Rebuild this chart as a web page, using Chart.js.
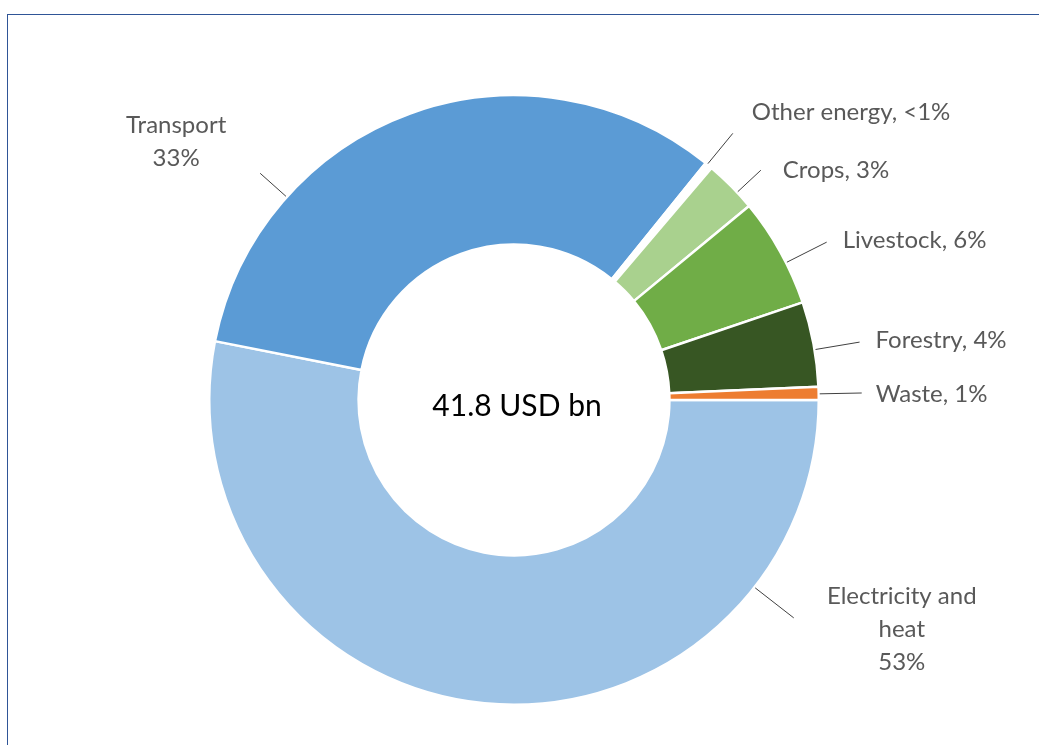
<!DOCTYPE html>
<html>
<head>
<meta charset="utf-8">
<script src="https://cdn.jsdelivr.net/npm/chart.js@4.4.0/dist/chart.umd.min.js"></script>
<style>
  html, body { margin: 0; padding: 0; background: #fff; overflow: hidden; }
  #wrap { position: relative; width: 1039px; height: 745px; }
  #frame { position: absolute; left: 7px; top: 14px; width: 1040px; height: 740px;
           border-left: 1px solid #2F5597; border-top: 1px solid #2F5597; }
  #c { position: absolute; left: 0; top: 0; }
</style>
</head>
<body>
<div id="wrap">
  <div id="frame"></div>
  <canvas id="c" width="1039" height="745"></canvas>
</div>
<script>
// shares of 41.8 USD bn (percent)
const categories = ['Electricity and heat', 'Transport', 'Other energy', 'Crops', 'Livestock', 'Forestry', 'Waste'];
const shares = [53.2, 32.8, 0.4, 2.8, 5.8, 4.5, 0.7];
const shareLabels = ['53%', '33%', '<1%', '3%', '6%', '4%', '1%'];
const sliceColors = ['#9DC3E6', '#5B9BD5', '#FFFFFF', '#A9D18E', '#70AD47', '#375623', '#ED7D31'];
const totalLabel = '41.8 USD bn';

// label text lines
const labelLines = [
  ['Electricity and', 'heat', '53%'],
  ['Transport', '33%'],
  ['Other energy, <1%'],
  ['Crops, 3%'],
  ['Livestock, 6%'],
  ['Forestry, 4%'],
  ['Waste, 1%']
];

// leader line end (in outer-radius units from centre) and text offset (px) from that end
const labelPlace = [
  { ex: 0.918, ey: 0.715, tx: 108, ty: 11, align: 'center' },
  { ex: -0.833, ey: -0.744, tx: -84, ty: -32, align: 'center' },
  { ex: 0.718, ey: -0.875, tx: 19, ty: -21, align: 'left' },
  { ex: 0.810, ey: -0.754, tx: 22, ty: 0, align: 'left' },
  { ex: 1.026, ey: -0.518, tx: 16, ty: -2, align: 'left' },
  { ex: 1.134, ey: -0.190, tx: 16, ty: -2, align: 'left' },
  { ex: 1.141, ey: -0.023, tx: 14, ty: 1, align: 'left' }
];

const labelFont = '24px Lato, sans-serif';
const lineH = 33;

const ringLabels = {
  id: 'ringLabels',
  afterDatasetsDraw(chart) {
    const ctx = chart.ctx;
    const arcs = chart.getDatasetMeta(0).data;
    ctx.save();
    arcs.forEach((arc, i) => {
      const p = arc.getProps(['x', 'y', 'startAngle', 'endAngle', 'outerRadius'], true);
      const R = p.outerRadius;
      const pl = labelPlace[i];
      const ex = p.x + pl.ex * R, ey = p.y + pl.ey * R;
      // start on the outer edge, in the direction of the line end, kept inside the slice
      let a = Math.atan2(ey - p.y, ex - p.x);
      const mid = (p.startAngle + p.endAngle) / 2;
      let d = a - mid;
      while (d > Math.PI) d -= 2 * Math.PI;
      while (d < -Math.PI) d += 2 * Math.PI;
      a = Math.min(Math.max(mid + d, p.startAngle), p.endAngle);
      const sx = p.x + Math.cos(a) * (R + 1), sy = p.y + Math.sin(a) * (R + 1);
      ctx.strokeStyle = '#404040';
      ctx.lineWidth = 1;
      ctx.beginPath();
      ctx.moveTo(sx, sy);
      ctx.lineTo(ex, ey);
      ctx.stroke();

      const lines = labelLines[i];
      ctx.font = labelFont;
      ctx.fillStyle = '#595959';
      ctx.textAlign = pl.align;
      ctx.textBaseline = 'middle';
      const cy = ey + pl.ty - (lines.length - 1) * lineH / 2;
      lines.forEach((t, k) => ctx.fillText(t, ex + pl.tx, cy + k * lineH));
    });
    // total in the hole
    const c = arcs[0];
    ctx.font = '30px Lato, sans-serif';
    ctx.fillStyle = '#000';
    ctx.textAlign = 'center';
    ctx.textBaseline = 'middle';
    ctx.fillText(totalLabel, c.x + 3, c.y + 6);
    ctx.restore();
  }
};

new Chart(document.getElementById('c'), {
  type: 'doughnut',
  data: {
    labels: categories,
    datasets: [{
      data: shares,
      backgroundColor: sliceColors,
      borderColor: '#ffffff',
      borderWidth: 2.5,
      hoverOffset: 0
    }]
  },
  options: {
    responsive: false,
    animation: false,
    rotation: 90,
    cutout: '51%',
    layout: { padding: { left: 208, right: 219, top: 94, bottom: 39 } },
    plugins: {
      legend: { display: false },
      tooltip: { enabled: false }
    }
  },
  plugins: [ringLabels]
});
</script>
</body>
</html>
